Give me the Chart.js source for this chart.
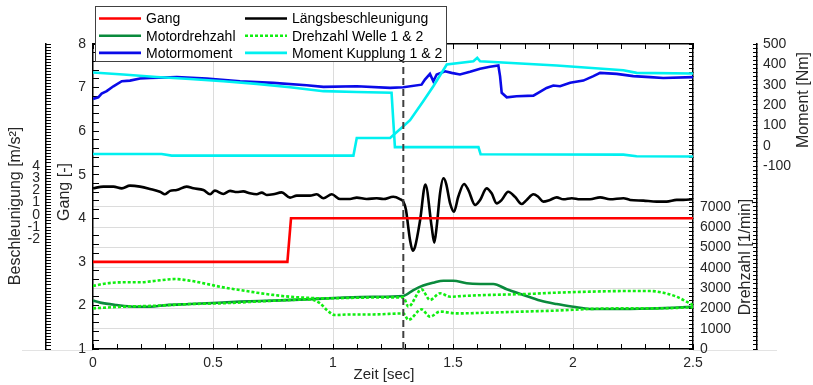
<!DOCTYPE html>
<html>
<head>
<meta charset="utf-8">
<title>Schaltvorgang</title>
<script src="https://cdn.jsdelivr.net/npm/chart.js@4.4.0/dist/chart.umd.min.js"></script>
<style>
  html, body { margin: 0; padding: 0; background: #fff; }
  #wrap { width: 813px; height: 385px; position: relative; }
</style>
</head>
<body>
<div id="wrap"><canvas id="schalt_chart"></canvas></div>
<script>
// Achsen-Beschriftungen
const zeit_ticks = [0, 0.5, 1, 1.5, 2, 2.5];
const zeit_grid = [0.5, 1, 1.5, 2];
const gang_ticks = [1, 2, 3, 4, 5, 6, 7, 8];
const accel_ticks = [-2, -1, 0, 1, 2, 3, 4];
const drehzahl_ticks = [0, 1000, 2000, 3000, 4000, 5000, 6000, 7000];
const drehzahl_grid = [1000, 2000, 3000, 4000, 5000, 6000, 7000];
const moment_ticks = [-100, 0, 100, 200, 300, 400, 500];

// Gang [-]
const gang_zeit = [0, 0.81, 0.825, 2.5];
const gang_wert = [3, 3, 4, 4];

// Laengsbeschleunigung [m/s2]
const laengs_zeit = [0, 0.043, 0.085, 0.12, 0.154, 0.196, 0.238, 0.279, 0.30, 0.321, 0.349, 0.39, 0.418, 0.46, 0.488, 0.508, 0.543, 0.571, 0.599, 0.626, 0.654, 0.682, 0.703, 0.724, 0.751, 0.786, 0.821, 0.849, 0.904, 0.932, 0.96, 0.995, 1.029, 1.071, 1.099, 1.14, 1.182, 1.21, 1.251, 1.279, 1.293, 1.304, 1.314, 1.321, 1.332, 1.342, 1.363, 1.385, 1.411, 1.422, 1.432, 1.446, 1.46, 1.471, 1.488, 1.504, 1.522, 1.546, 1.564, 1.592, 1.613, 1.64, 1.661, 1.682, 1.703, 1.73, 1.758, 1.786, 1.807, 1.835, 1.855, 1.876, 1.904, 1.932, 1.96, 1.995, 2.029, 2.071, 2.113, 2.154, 2.21, 2.238, 2.293, 2.349, 2.39, 2.432, 2.46, 2.5];
const laengs_wert = [2.17, 2.31, 2.31, 2.17, 2.39, 2.31, 2.12, 1.89, 1.68, 1.96, 2.03, 2.31, 2.17, 2.03, 1.68, 1.98, 1.71, 1.96, 1.87, 1.92, 1.76, 1.68, 1.82, 1.62, 1.68, 1.84, 1.41, 1.57, 1.57, 1.68, 1.36, 1.68, 1.29, 1.29, 1.41, 1.29, 1.36, 1.29, 1.48, 1.29, 1.08, 0.42, -1.08, -2.07, -2.94, -2.61, -0.43, 2.48, -0.97, -2.28, -0.97, 1.76, 2.99, 2.58, 0.94, 0.26, 1.48, 2.53, 2.03, 0.81, 1.22, 2.17, 1.76, 0.94, 1.22, 1.89, 1.48, 0.88, 1.22, 1.68, 1.48, 1.08, 1.22, 1.43, 1.27, 1.36, 1.27, 1.27, 1.43, 1.27, 1.36, 1.22, 1.16, 1.08, 1.08, 1.22, 1.22, 1.27];

// Motordrehzahl [1/min]
const motor_n_zeit = [0, 0.03, 0.099, 0.168, 0.238, 0.307, 0.404, 0.474, 0.613, 0.751, 0.89, 1.029, 1.168, 1.293, 1.335, 1.376, 1.418, 1.46, 1.501, 1.557, 1.613, 1.668, 1.724, 1.793, 1.863, 1.932, 2.001, 2.071, 2.14, 2.21, 2.279, 2.349, 2.418, 2.5];
const motor_n_wert = [2380, 2280, 2160, 2080, 2080, 2160, 2210, 2250, 2330, 2380, 2440, 2520, 2570, 2610, 2900, 3120, 3260, 3360, 3360, 3230, 3200, 3200, 2940, 2660, 2380, 2210, 2080, 1970, 1970, 1970, 1980, 2000, 2030, 2080];

// Drehzahl Welle 1 und 2 [1/min]
const welle1_zeit = [0, 0.057, 0.126, 0.196, 0.265, 0.342, 0.404, 0.474, 0.543, 0.613, 0.682, 0.751, 0.821, 0.89, 0.96, 1.099, 1.238, 1.293, 1.314, 1.369, 1.404, 1.446, 1.488, 1.543, 1.654, 1.793, 1.932, 2.071, 2.21, 2.321, 2.376, 2.432, 2.5];
const welle1_wert = [3100, 3230, 3280, 3280, 3360, 3440, 3360, 3200, 3030, 2900, 2770, 2660, 2570, 2520, 2490, 2520, 2540, 2540, 2080, 2930, 2410, 2740, 2570, 2610, 2660, 2700, 2770, 2820, 2850, 2850, 2770, 2570, 2160];
const welle2_zeit = [0, 0.126, 0.265, 0.404, 0.543, 0.682, 0.821, 0.904, 0.946, 0.974, 1.008, 1.071, 1.168, 1.293, 1.314, 1.369, 1.404, 1.446, 1.515, 1.654, 1.793, 1.932, 2.071, 2.21, 2.349, 2.5];
const welle2_wert = [2000, 2080, 2130, 2210, 2250, 2330, 2410, 2440, 2250, 1920, 1670, 1700, 1700, 1750, 1430, 1950, 1590, 1840, 1750, 1790, 1840, 1890, 1970, 2000, 2000, 2050];

// Motormoment [Nm]
const motor_m_zeit = [0, 0.022, 0.036, 0.057, 0.085, 0.12, 0.154, 0.196, 0.238, 0.349, 0.474, 0.613, 0.751, 0.89, 0.96, 1.099, 1.238, 1.293, 1.369, 1.383, 1.404, 1.418, 1.432, 1.467, 1.494, 1.529, 1.571, 1.613, 1.654, 1.689, 1.696, 1.703, 1.724, 1.765, 1.835, 1.855, 1.89, 1.918, 1.946, 1.988, 2.043, 2.085, 2.113, 2.182, 2.251, 2.321, 2.376, 2.5];
const motor_m_wert = [230, 238, 256, 268, 292, 317, 320, 330, 333, 337, 330, 317, 309, 297, 289, 292, 284, 287, 300, 325, 353, 317, 350, 366, 358, 350, 363, 378, 388, 394, 342, 260, 238, 243, 246, 260, 284, 296, 292, 309, 320, 342, 358, 353, 342, 337, 333, 337];

// Moment Kupplung 1 und 2 [Nm]
const kupplung1_zeit = [0, 0.126, 0.265, 0.404, 0.543, 0.682, 0.821, 0.96, 1.099, 1.244, 1.258, 1.606, 1.615, 2.21, 2.265, 2.5];
const kupplung1_wert = [360, 350, 338, 328, 317, 304, 287, 268, 264, 260, -7, -7, -42, -44, -52, -53];
const kupplung2_zeit = [0, 0.286, 0.328, 1.085, 1.099, 1.238, 1.293, 1.321, 1.376, 1.418, 1.474, 1.585, 1.601, 1.613, 1.932, 2.21, 2.265, 2.5];
const kupplung2_wert = [-41, -41, -49, -49, 38, 38, 95, 125, 218, 292, 399, 415, 432, 415, 394, 371, 358, 355];

// Schaltzeitpunkt
const schalt_zeit = [1.293, 1.293];
const schalt_gang = [1, 8];

const FONT = "'Liberation Sans', Arial, sans-serif";
Chart.defaults.font.family = FONT;
Chart.defaults.font.size = 14;
Chart.defaults.color = '#262626';

function to_points(xs, ys) {
  return xs.map(function(x, i) {
    return {x: x, y: ys[i]};
  });
}

function has_tick(list, v) {
  return list.some(function(t) {
    return Math.abs(t - v) < 1e-6 * Math.max(1, Math.abs(t));
  });
}

const baseline_plugin = {
  id: 'baseline',
  beforeDraw: function(chart) {
    const ctx = chart.ctx;
    ctx.save();
    ctx.strokeStyle = '#e3e3e3';
    ctx.lineWidth = 1;
    ctx.beginPath();
    ctx.moveTo(22, 350.5);
    ctx.lineTo(93, 350.5);
    ctx.moveTo(693, 350.5);
    ctx.lineTo(777, 350.5);
    ctx.stroke();
    ctx.restore();
  }
};

const titles_plugin = {
  id: 'axis_titles',
  afterDraw: function(chart) {
    const ctx = chart.ctx;
    const titles = [
      {text: 'Beschleunigung [m/s²]', x: 16, y: 206, rot: true, size: 16},
      {text: 'Gang [-]', x: 65, y: 192, rot: true, size: 16},
      {text: 'Drehzahl [1/min]', x: 746, y: 257, rot: true, size: 16},
      {text: 'Moment [Nm]', x: 804, y: 100, rot: true, size: 16},
      {text: 'Zeit [sec]', x: 384, y: 375, rot: false, size: 15}
    ];
    ctx.save();
    ctx.fillStyle = '#262626';
    ctx.textAlign = 'center';
    ctx.textBaseline = 'middle';
    titles.forEach(function(t) {
      ctx.save();
      ctx.font = t.size + 'px ' + FONT;
      ctx.translate(t.x, t.y);
      if (t.rot) {
        ctx.rotate(-Math.PI / 2);
      }
      ctx.fillText(t.text, 0, 0);
      ctx.restore();
    });
    ctx.restore();
  }
};

const legend_plugin = {
  id: 'kasten_legende',
  afterDraw: function(chart) {
    const ctx = chart.ctx;
    ctx.save();
    ctx.fillStyle = '#fff';
    ctx.strokeStyle = '#404040';
    ctx.lineWidth = 1;
    ctx.fillRect(95.5, 6.5, 351, 55);
    ctx.strokeRect(95.5, 6.5, 351, 55);
    chart.data.datasets.forEach(function(ds) {
      if (ds.legend_row === undefined) {
        return;
      }
      const x0 = ds.legend_col === 0 ? 99 : 245;
      const y = 18.5 + ds.legend_row * 17.2;
      ctx.strokeStyle = ds.borderColor;
      ctx.lineWidth = ds.borderWidth;
      ctx.setLineDash(ds.borderDash || []);
      ctx.beginPath();
      ctx.moveTo(x0, y);
      ctx.lineTo(x0 + 42, y);
      ctx.stroke();
      ctx.setLineDash([]);
      ctx.fillStyle = '#000';
      ctx.font = '14px ' + FONT;
      ctx.textAlign = 'left';
      ctx.textBaseline = 'middle';
      ctx.fillText(ds.label, x0 + 47, y + 1);
    });
    ctx.restore();
  }
};

function line_set(label, xs, ys, axis, color, extra) {
  const ds = {
    label: label,
    data: to_points(xs, ys),
    yAxisID: axis,
    borderColor: color,
    backgroundColor: color,
    borderWidth: 2.6,
    pointRadius: 0,
    fill: false,
    tension: 0
  };
  return Object.assign(ds, extra || {});
}

const datasets = [
  line_set('Schaltung', schalt_zeit, schalt_gang, 'y_gang', '#404040', {borderDash: [7, 4], borderWidth: 2, order: -1}),
  line_set('Gang', gang_zeit, gang_wert, 'y_gang', '#ff0000', {legend_col: 0, legend_row: 0, order: 2}),
  line_set('Motordrehzahl', motor_n_zeit, motor_n_wert, 'y_drehzahl', '#0a8a3c', {legend_col: 0, legend_row: 1, cubicInterpolationMode: 'monotone', order: 3}),
  line_set('Motormoment', motor_m_zeit, motor_m_wert, 'y_moment', '#0a0ae8', {legend_col: 0, legend_row: 2, order: 4}),
  line_set('Längsbeschleunigung', laengs_zeit, laengs_wert, 'y_accel', '#000000', {legend_col: 1, legend_row: 0, cubicInterpolationMode: 'monotone', order: 2}),
  line_set('Drehzahl Welle 1 & 2', welle1_zeit, welle1_wert, 'y_drehzahl', '#11ee11', {legend_col: 1, legend_row: 1, borderDash: [3, 2], cubicInterpolationMode: 'monotone', order: 1}),
  line_set('Drehzahl Welle 2', welle2_zeit, welle2_wert, 'y_drehzahl', '#11ee11', {borderDash: [3, 2], cubicInterpolationMode: 'monotone', order: 1}),
  line_set('Moment Kupplung 1 & 2', kupplung1_zeit, kupplung1_wert, 'y_moment', '#00f0f0', {legend_col: 1, legend_row: 2, order: 3}),
  line_set('Moment Kupplung 2', kupplung2_zeit, kupplung2_wert, 'y_moment', '#00f0f0', {order: 3})
];

function y_scale(opts) {
  return {
    type: 'linear',
    position: opts.position,
    weight: opts.weight,
    min: opts.min,
    max: opts.max,
    afterFit: function(scale) {
      scale.width = opts.width;
    },
    border: {display: true, color: '#000', width: 1.5},
    grid: {
      drawOnChartArea: !!opts.grid,
      color: function(c) {
        return opts.grid && c.tick && has_tick(opts.grid, c.tick.value) ? '#dcdcdc' : 'rgba(0,0,0,0)';
      },
      lineWidth: 1,
      tickColor: '#000',
      tickWidth: 1,
      tickLength: opts.tick_len
    },
    ticks: {
      stepSize: opts.step,
      maxTicksLimit: 1000,
      autoSkip: false,
      padding: opts.padding,
      color: '#262626',
      callback: function(v) {
        return has_tick(opts.labels, v) ? String(Math.round(v)) : '';
      }
    }
  };
}

new Chart('schalt_chart', {
  type: 'line',
  data: {datasets: datasets},
  options: {
    responsive: true,
    maintainAspectRatio: false,
    animation: false,
    devicePixelRatio: 1,
    layout: {padding: {top: 44, left: 0, right: 0, bottom: 0}},
    plugins: {
      legend: {display: false},
      tooltip: {enabled: false}
    },
    scales: {
      x: {
        type: 'linear',
        position: 'bottom',
        min: 0,
        max: 2.5,
        afterFit: function(scale) {
          scale.height = 36;
        },
        border: {display: true, color: '#000', width: 1.5},
        grid: {
          color: function(c) {
            return c.tick && has_tick(zeit_grid, c.tick.value) ? '#dcdcdc' : 'rgba(0,0,0,0)';
          },
          lineWidth: 1,
          tickColor: '#000',
          tickLength: -5
        },
        ticks: {
          stepSize: 0.1,
          maxTicksLimit: 1000,
          autoSkip: false,
          maxRotation: 0,
          padding: 11,
          color: '#262626',
          callback: function(v) {
            return has_tick(zeit_ticks, v) ? String(Math.round(v * 10) / 10) : '';
          }
        }
      },
      x_oben: {
        type: 'linear',
        position: 'top',
        min: 0,
        max: 2.5,
        afterFit: function(scale) {
          scale.height = 0;
        },
        border: {display: true, color: '#000', width: 1.5},
        grid: {drawOnChartArea: false, tickColor: '#000', tickLength: -5},
        ticks: {
          stepSize: 0.1,
          maxTicksLimit: 1000,
          autoSkip: false,
          maxRotation: 0,
          callback: function() {
            return '';
          }
        }
      },
      y_gang: y_scale({position: 'left', weight: 0, min: 1, max: 8, width: 47, step: 0.2, tick_len: -6, padding: 13, labels: gang_ticks}),
      y_accel: y_scale({position: 'left', weight: 1, min: -11, max: 14, width: 46, step: 0.25, tick_len: -5, padding: 11, labels: accel_ticks}),
      y_drehzahl: y_scale({position: 'right', weight: 0, min: 0, max: 15000, width: 64, step: 200, tick_len: -4, padding: 11, labels: drehzahl_ticks, grid: drehzahl_grid}),
      y_moment: y_scale({position: 'right', weight: 1, min: -1000, max: 500, width: 56, step: 20, tick_len: -4, padding: 10, labels: moment_ticks})
    }
  },
  plugins: [baseline_plugin, titles_plugin, legend_plugin]
});
</script>
</body>
</html>
